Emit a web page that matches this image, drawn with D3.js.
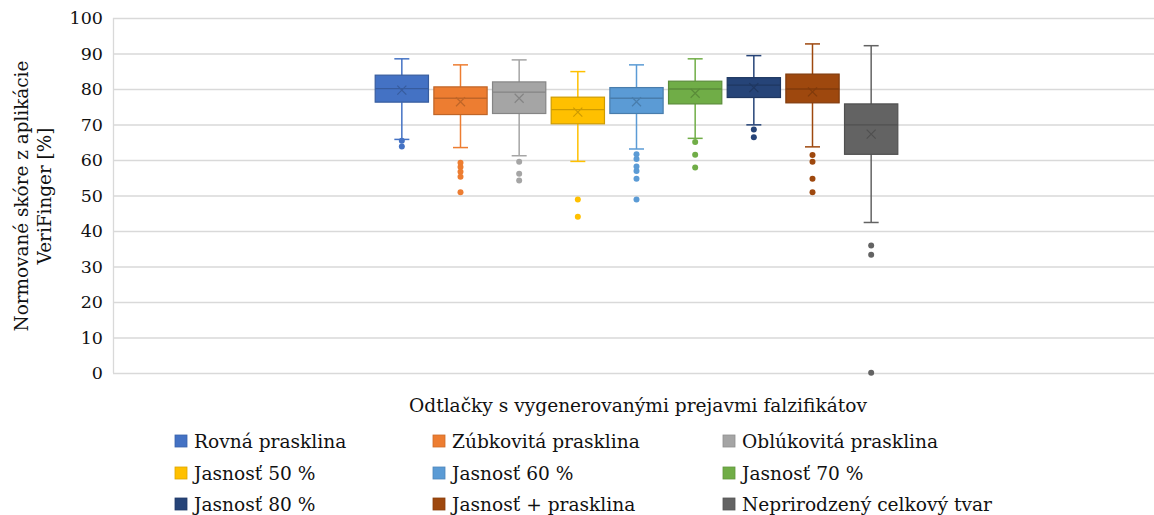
<!DOCTYPE html>
<html><head><meta charset="utf-8">
<script src="https://cdn.jsdelivr.net/npm/d3@7"></script>
<style>body{margin:0;background:#fff}svg{display:block}text{font-family:"DejaVu Serif","Liberation Serif",serif;fill:#111}</style>
</head><body><svg id="c" width="1154" height="515"></svg>
<script>
const series = ["Rovná prasklina","Zúbkovitá prasklina","Oblúkovitá prasklina","Jasnosť 50 %","Jasnosť 60 %","Jasnosť 70 %","Jasnosť 80 %","Jasnosť + prasklina","Neprirodzený celkový tvar"];
const colors = ["#4472C4","#ED7D31","#A5A5A5","#FFC000","#5B9BD5","#70AD47","#264478","#9E480E","#636363"];
const whiskerLow  = [65.8,63.5,61.2,59.6,63.1,66.1,69.9,63.7,42.4];
const q1          = [76.3,72.8,73.1,70.2,73.1,75.8,77.6,76.1,61.6];
const median      = [80.1,77.4,79.1,74.2,77.4,80.0,81.1,80.0,69.9];
const q3          = [83.9,80.6,82.0,77.7,80.4,82.2,83.2,84.2,75.8];
const whiskerHigh = [88.5,86.8,88.2,84.9,86.8,88.5,89.4,92.7,92.2];
const means       = [79.7,76.4,77.4,73.5,76.4,78.8,80.4,79.2,67.3];
const outliers = [
  [65.4,63.8],
  [59.2,58.0,56.7,55.3,50.9],
  [59.5,56.1,54.2],
  [48.9,44.0],
  [61.6,60.3,58.2,56.9,54.7,48.9],
  [65.1,61.5,57.9],
  [68.6,66.4],
  [61.4,59.5,54.7,50.9],
  [35.9,33.3,0.1]
];
const yTicks = [0,10,20,30,40,50,60,70,80,90,100];
const yTitle = ["Normované skóre z aplikácie","VeriFinger [%]"];
const xTitle = "Odtlačky s vygenerovanými prejavmi falzifikátov";

const svg = d3.select("#c");
const L = 113, R = 1154, T = 18, B = 373;
const y = d3.scaleLinear().domain([0,100]).range([B,T]);
const x = d3.scaleBand().domain(series).range([372.5,900.5]).paddingInner(0.092).paddingOuter(0.046);

// gridlines
svg.append("g").selectAll("line").data(yTicks).join("line")
  .attr("x1",L).attr("x2",R).attr("y1",d=>y(d)+0.5).attr("y2",d=>y(d)+0.5)
  .attr("stroke","#d9d9d9").attr("stroke-width",1.3);
svg.append("line").attr("x1",L+0.5).attr("x2",L+0.5).attr("y1",T).attr("y2",B)
  .attr("stroke","#d9d9d9").attr("stroke-width",1.3);

// y axis labels
const ya = svg.append("g").attr("transform",`translate(${L-10},0)`)
  .call(d3.axisLeft(y).tickValues(yTicks).tickSize(0).tickPadding(0));
ya.select(".domain").remove();
ya.selectAll("text").attr("font-family","DejaVu Serif").attr("font-size",17.5).attr("fill","#111");

// boxes
const g = svg.append("g");
series.forEach((s,i)=>{
  const c = colors[i];
  const dk = d3.color(c).darker(0.6).formatHex();
  const cx = x(s) + x.bandwidth()/2;
  const bw = x.bandwidth();
  const gg = g.append("g");
  gg.append("line").attr("x1",cx).attr("x2",cx).attr("y1",y(q3[i])).attr("y2",y(whiskerHigh[i])).attr("stroke",c).attr("stroke-width",1.5);
  gg.append("line").attr("x1",cx).attr("x2",cx).attr("y1",y(q1[i])).attr("y2",y(whiskerLow[i])).attr("stroke",c).attr("stroke-width",1.5);
  [whiskerHigh[i],whiskerLow[i]].forEach(v=>{
    gg.append("line").attr("x1",cx-7.5).attr("x2",cx+7.5).attr("y1",y(v)).attr("y2",y(v)).attr("stroke",c).attr("stroke-width",1.5);
  });
  gg.append("rect").attr("x",x(s)).attr("width",bw).attr("y",y(q3[i])).attr("height",y(q1[i])-y(q3[i]))
    .attr("fill",c).attr("stroke",dk).attr("stroke-width",1.2);
  gg.append("line").attr("x1",x(s)).attr("x2",x(s)+bw).attr("y1",y(median[i])).attr("y2",y(median[i])).attr("stroke",dk).attr("stroke-width",1.3);
  const my = y(means[i]), h = 4.5;
  gg.append("path").attr("d",`M${cx-h},${my-h}L${cx+h},${my+h}M${cx-h},${my+h}L${cx+h},${my-h}`).attr("stroke",dk).attr("stroke-width",1.2).attr("fill","none");
  gg.selectAll("circle").data(outliers[i]).join("circle").attr("cx",cx).attr("cy",d=>y(d)).attr("r",3).attr("fill",c);
});

// axis titles
const yt = svg.append("text").attr("transform","translate(0,196) rotate(-90)").attr("text-anchor","middle").attr("font-size",18.4);
yt.selectAll("tspan").data(yTitle).join("tspan").attr("x",0).attr("y",(d,i)=>28+i*23).text(d=>d);
svg.append("text").attr("x",638).attr("y",412).attr("text-anchor","middle").attr("font-size",18.6).text(xTitle);

// legend
const colX = [175,433,723], rowY = [441,473,504];
const lg = svg.append("g");
series.forEach((s,i)=>{
  const cx = colX[i%3], cy = rowY[Math.floor(i/3)];
  lg.append("rect").attr("x",cx).attr("y",cy-6).attr("width",12).attr("height",12).attr("fill",colors[i]).attr("stroke",d3.color(colors[i]).darker(0.4)).attr("stroke-width",0.8);
  lg.append("text").attr("x",cx+19).attr("y",cy+6.5).attr("font-size",18.6).text(s);
});
</script></body></html>
